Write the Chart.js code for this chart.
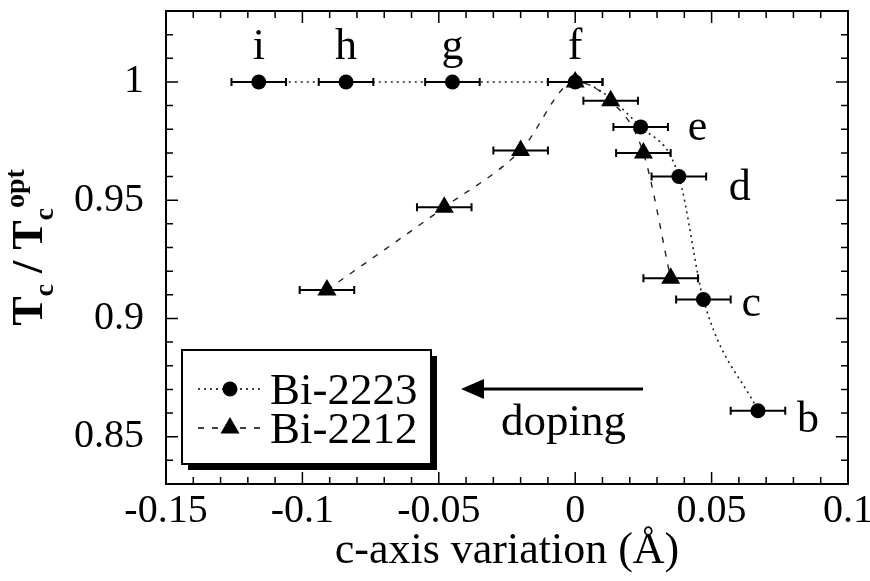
<!DOCTYPE html>
<html>
<head>
<meta charset="utf-8">
<script src="https://cdn.jsdelivr.net/npm/chart.js@4.4.1/dist/chart.umd.min.js"></script>
<style>
  html, body { margin: 0; padding: 0; background: #fff; }
  #tcChart { display: block; }
</style>
</head>
<body>
<canvas id="tcChart" width="870" height="581"></canvas>
<script>
// Bi-2223 samples (circles, dotted line)
const bi2223X = [-0.116, -0.084, -0.045, 0.0, 0.024, 0.038, 0.047, 0.067]
const bi2223Y = [1.0, 1.0, 1.0, 1.0, 0.981, 0.960, 0.908, 0.861]
const bi2223Err = [0.01, 0.01, 0.01, 0.01, 0.01, 0.01, 0.01, 0.01]
const bi2223Names = ['i', 'h', 'g', 'f', 'e', 'd', 'c', 'b']

// Bi-2212 samples (triangles, dashed line)
const bi2212X = [-0.091, -0.048, -0.020, 0.0, 0.013, 0.025, 0.035]
const bi2212Y = [0.912, 0.947, 0.971, 1.0, 0.992, 0.970, 0.917]
const bi2212Err = [0.01, 0.01, 0.01, 0.01, 0.01, 0.01, 0.01]

const xRange = [-0.15, 0.1]
const yRange = [0.83, 1.03]
const majorStep = 0.05
const minorStep = 0.01

const SERIF = '"Liberation Serif", "Times New Roman", Times, serif'

// where each sample letter sits relative to its point (pixels)
const nameOffset = {
    i: [0, -23, 'center'], h: [0, -23, 'center'], g: [0, -23, 'center'], f: [0, -23, 'center'],
    e: [47, 13, 'left'], d: [50, 23, 'left'], c: [38, 16, 'left'], b: [39, 21, 'left']
}

function isMajor(v) {
    return Math.abs(v / majorStep - Math.round(v / majorStep)) < 1e-6
}

function tickLabel(v) {
    return isMajor(v) ? String(parseFloat(v.toFixed(2))) : ''
}

function toPoints(xs, ys) {
    return xs.map((x, i) => ({ x: x, y: ys[i] }))
}

function drawMarker(ctx, style, x, y, r) {
    ctx.beginPath()
    if (style === 'triangle') {
        ctx.moveTo(x, y - r)
        ctx.lineTo(x + r * Math.sin(Math.PI / 3), y + r / 2)
        ctx.lineTo(x - r * Math.sin(Math.PI / 3), y + r / 2)
        ctx.closePath()
    } else {
        ctx.arc(x, y, r, 0, Math.PI * 2)
    }
    ctx.fill()
}

const decorations = {
    id: 'decorations',
    afterDatasetsDraw(chart) {
        const { ctx, scales: { x, y } } = chart
        ctx.save()
        ctx.strokeStyle = '#000'
        ctx.lineWidth = 2
        // horizontal error bars
        const series = [[bi2223X, bi2223Y, bi2223Err], [bi2212X, bi2212Y, bi2212Err]]
        series.forEach(([xs, ys, errs]) => {
            xs.forEach((xv, i) => {
                const x0 = x.getPixelForValue(xv - errs[i])
                const x1 = x.getPixelForValue(xv + errs[i])
                const py = y.getPixelForValue(ys[i])
                ctx.beginPath()
                ctx.moveTo(x0, py); ctx.lineTo(x1, py)
                ctx.moveTo(x0, py - 4); ctx.lineTo(x0, py + 4)
                ctx.moveTo(x1, py - 4); ctx.lineTo(x1, py + 4)
                ctx.stroke()
            })
        })
        ctx.restore()
    },
    afterDraw(chart) {
        const { ctx, chartArea: a, scales: { x, y } } = chart
        ctx.save()
        ctx.strokeStyle = '#000'
        ctx.fillStyle = '#000'

        // frame
        ctx.lineWidth = 2
        ctx.strokeRect(a.left, a.top, a.right - a.left, a.bottom - a.top)

        // inward ticks on all four sides
        ctx.lineWidth = 1.5
        ctx.beginPath()
        x.ticks.forEach(t => {
            const px = x.getPixelForValue(t.value)
            const len = isMajor(t.value) ? 12 : 7
            ctx.moveTo(px, a.bottom); ctx.lineTo(px, a.bottom - len)
            ctx.moveTo(px, a.top); ctx.lineTo(px, a.top + len)
        })
        y.ticks.forEach(t => {
            const py = y.getPixelForValue(t.value)
            const len = isMajor(t.value) ? 12 : 7
            ctx.moveTo(a.left, py); ctx.lineTo(a.left + len, py)
            ctx.moveTo(a.right, py); ctx.lineTo(a.right - len, py)
        })
        ctx.stroke()

        // sample letters
        ctx.font = '44px ' + SERIF
        ctx.textBaseline = 'alphabetic'
        bi2223Names.forEach((n, i) => {
            const off = nameOffset[n]
            ctx.textAlign = off[2]
            ctx.fillText(n, x.getPixelForValue(bi2223X[i]) + off[0], y.getPixelForValue(bi2223Y[i]) + off[1])
        })

        // legend box with shadow
        const box = { l: 182, t: 350, w: 249, h: 114 }
        ctx.fillRect(box.l + 6, box.t + 6, box.w, box.h)
        ctx.fillStyle = '#fff'
        ctx.fillRect(box.l, box.t, box.w, box.h)
        ctx.lineWidth = 2
        ctx.strokeRect(box.l, box.t, box.w, box.h)
        ctx.fillStyle = '#000'
        const rows = [
            { ds: chart.data.datasets[0], yy: 389 },
            { ds: chart.data.datasets[1], yy: 428 }
        ]
        rows.forEach(r => {
            ctx.save()
            ctx.lineWidth = r.ds.borderWidth
            ctx.setLineDash(r.ds.borderDash)
            ctx.beginPath()
            ctx.moveTo(198, r.yy); ctx.lineTo(262, r.yy)
            ctx.stroke()
            ctx.restore()
            drawMarker(ctx, r.ds.pointStyle, 230, r.yy, r.ds.pointRadius)
            ctx.font = '45px ' + SERIF
            ctx.textAlign = 'left'
            ctx.textBaseline = 'middle'
            ctx.fillText(r.ds.label, 270, r.yy + 3)
        })

        // doping arrow
        ctx.lineWidth = 3
        ctx.beginPath()
        ctx.moveTo(643, 389); ctx.lineTo(478, 389)
        ctx.stroke()
        ctx.beginPath()
        ctx.moveTo(461, 389); ctx.lineTo(484, 379); ctx.lineTo(484, 399)
        ctx.closePath()
        ctx.fill()
        ctx.font = '45px ' + SERIF
        ctx.textAlign = 'left'
        ctx.textBaseline = 'alphabetic'
        ctx.fillText('doping', 501, 435)

        // y-axis title: T_c / T_c^opt
        ctx.save()
        ctx.translate(42, (a.top + a.bottom) / 2)
        ctx.rotate(-Math.PI / 2)
        const big = 'bold 44px ' + SERIF
        const small = 'bold 28px ' + SERIF
        const parts = [
            { t: 'T', f: big, dy: 0 },
            { t: 'c', f: small, dy: 11 },
            { t: ' / ', f: big, dy: 0 },
            { t: 'T', f: big, dy: 0 },
            { t: 'c', f: small, dy: 11 },
            { t: 'opt', f: small, dy: -18 }
        ]
        let total = 0
        parts.forEach(p => { ctx.font = p.f; p.w = ctx.measureText(p.t).width; total += p.w })
        let cx = -total / 2
        ctx.textAlign = 'left'
        ctx.textBaseline = 'alphabetic'
        parts.forEach(p => {
            ctx.font = p.f
            ctx.fillText(p.t, cx, p.dy)
            cx += p.w
        })
        ctx.restore()

        ctx.restore()
    }
}

const ctx = document.getElementById('tcChart').getContext('2d')

const tcChart = new Chart(ctx, {
    type: 'line',
    data: {
        datasets: [
            {
                label: 'Bi-2223',
                data: toPoints(bi2223X, bi2223Y),
                borderColor: '#222',
                borderWidth: 1.6,
                borderDash: [2, 4],
                cubicInterpolationMode: 'monotone',
                pointStyle: 'circle',
                pointRadius: 7.5,
                pointBackgroundColor: '#000',
                pointBorderWidth: 0,
                fill: false
            },
            {
                label: 'Bi-2212',
                data: toPoints(bi2212X, bi2212Y),
                borderColor: '#222',
                borderWidth: 1.4,
                borderDash: [6, 8],
                cubicInterpolationMode: 'monotone',
                pointStyle: 'triangle',
                pointRadius: 11,
                pointBackgroundColor: '#000',
                pointBorderWidth: 0,
                fill: false
            }
        ]
    },
    options: {
        responsive: false,
        animation: false,
        devicePixelRatio: 1,
        layout: { padding: { left: 0, right: 22, top: 8, bottom: 0 } },
        plugins: {
            legend: { display: false },
            tooltip: { enabled: false }
        },
        scales: {
            x: {
                type: 'linear',
                min: xRange[0],
                max: xRange[1],
                grid: { display: false, drawTicks: false },
                border: { display: true, color: '#000', width: 2 },
                ticks: {
                    stepSize: minorStep,
                    autoSkip: false,
                    maxTicksLimit: 100,
                    maxRotation: 0,
                    padding: 3,
                    color: '#000',
                    font: { family: SERIF, size: 40 },
                    callback: tickLabel
                },
                title: {
                    display: true,
                    text: 'c-axis variation (Å)',
                    color: '#000',
                    font: { family: SERIF, size: 44 },
                    padding: { top: 0, bottom: 3 }
                },
                afterFit(s) {
                    s.height = 97
                    s.paddingLeft = 0
                    s.paddingRight = 0
                }
            },
            y: {
                type: 'linear',
                min: yRange[0],
                max: yRange[1],
                grid: { display: false, drawTicks: false },
                border: { display: true, color: '#000', width: 2 },
                ticks: {
                    stepSize: minorStep,
                    autoSkip: false,
                    maxTicksLimit: 100,
                    padding: 22,
                    color: '#000',
                    font: { family: SERIF, size: 40 },
                    callback: tickLabel
                },
                afterFit(s) {
                    s.width = 166
                    s.paddingTop = 0
                    s.paddingBottom = 0
                }
            }
        }
    },
    plugins: [decorations]
})
</script>
</body>
</html>
